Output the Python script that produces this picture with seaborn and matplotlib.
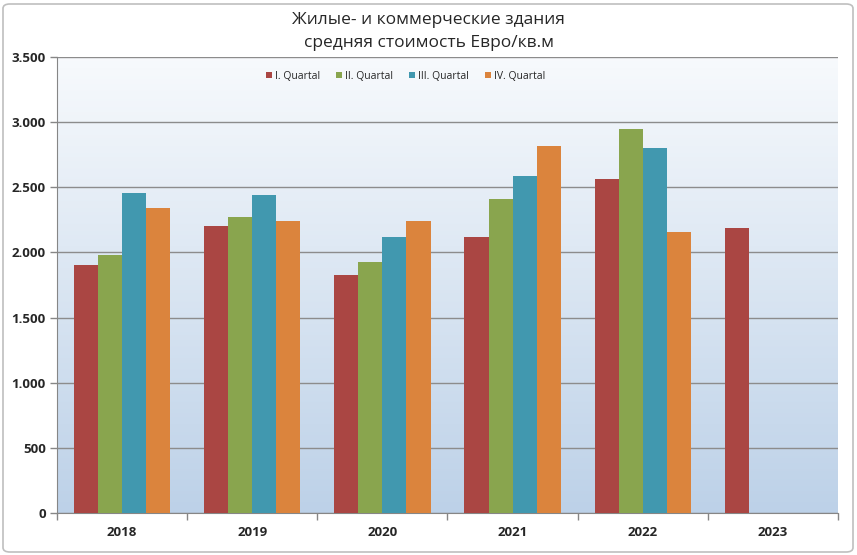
import numpy as np
import pandas as pd
import matplotlib
matplotlib.use("Agg")
import matplotlib.pyplot as plt
import seaborn as sns
from matplotlib.patches import FancyBboxPatch
from matplotlib.ticker import FuncFormatter, FixedLocator

# Daten
years = ["2018", "2019", "2020", "2021", "2022", "2023"]
quarters = ["I. Quartal", "II. Quartal", "III. Quartal", "IV. Quartal"]
q1 = [1905, 2200, 1830, 2118, 2563, 2185]
q2 = [1980, 2274, 1926, 2410, 2950, None]
q3 = [2455, 2443, 2118, 2589, 2802, None]
q4 = [2343, 2242, 2244, 2817, 2157, None]
colors = ["#AA4643", "#89A54E", "#4198AF", "#DB843D"]

rows = []
for qname, vals in zip(quarters, [q1, q2, q3, q4]):
    for y, v in zip(years, vals):
        if v is not None:
            rows.append({"Jahr": y, "Quartal": qname, "Wert": v})
df = pd.DataFrame(rows)

sns.set_style("white")
plt.rcParams["font.family"] = ["Open Sans", "DejaVu Sans"]

fig = plt.figure(figsize=(8.57, 5.55), dpi=100)
ax = fig.add_axes([57 / 857, 42 / 555, 781 / 857, 456 / 555])

# Rahmen um das Diagramm
fig.patches.append(FancyBboxPatch((3 / 857, 3 / 555), 850 / 857, 548 / 555,
                                  boxstyle="round,pad=0,rounding_size=0.008",
                                  transform=fig.transFigure, fill=False,
                                  edgecolor="#BFBFBF", linewidth=1.2))

sns.barplot(data=df, x="Jahr", y="Wert", hue="Quartal", order=years,
            hue_order=quarters, palette=colors, width=0.74, saturation=1,
            errorbar=None, ax=ax, zorder=3, legend=True, linewidth=0)

ax.set_xlim(-0.5, 5.5)
ax.set_ylim(0, 3500)

# Hintergrund-Verlauf
grad = np.linspace(0, 1, 256).reshape(-1, 1)
top = np.array([0.97, 0.98, 0.99])
bot = np.array([0.74, 0.82, 0.91])
img = top + (bot - top) * grad[..., None]
ax.imshow(img.reshape(256, 1, 3), extent=(-0.5, 5.5, 0, 3500), aspect="auto",
          origin="upper", zorder=0)

ax.yaxis.set_major_locator(FixedLocator(np.arange(0, 3501, 500)))
ax.yaxis.set_major_formatter(FuncFormatter(lambda v, p: f"{int(v):,}".replace(",", ".")))
ax.grid(axis="y", color="#8C8C8C", linewidth=1, zorder=1)
ax.set_axisbelow(False)
for gl in ax.get_ygridlines():
    gl.set_zorder(1)

for s in ["top", "right"]:
    ax.spines[s].set_visible(False)
ax.spines["left"].set_color("#868686")
ax.spines["bottom"].set_color("#868686")

ax.set_xlabel("")
ax.set_ylabel("")
ax.tick_params(axis="y", length=5, width=1, color="#868686", direction="out",
               labelsize=9.5, pad=3, left=True)
ax.tick_params(axis="x", which="major", length=0, labelsize=9.5, pad=9)
ax.set_xticks(np.arange(-0.5, 5.6, 1), minor=True)
ax.tick_params(axis="x", which="minor", length=5, width=1, color="#868686",
               direction="out", bottom=True)
for lab in ax.get_xticklabels() + ax.get_yticklabels():
    lab.set_fontweight("bold")

fig.text(0.5, 0.964, "Жилые- и коммерческие здания", ha="center", va="center",
         fontsize=12.5)
fig.text(0.5, 0.922, "средняя стоимость Евро/кв.м", ha="center", va="center",
         fontsize=12.5)

ax.legend(loc="center", bbox_to_anchor=(0.446, 0.958), ncol=4,
          frameon=False, fontsize=7.5, handlelength=0.6, handleheight=0.6,
          handletextpad=0.3, columnspacing=1.5)

fig.savefig("out.png", dpi=100)
